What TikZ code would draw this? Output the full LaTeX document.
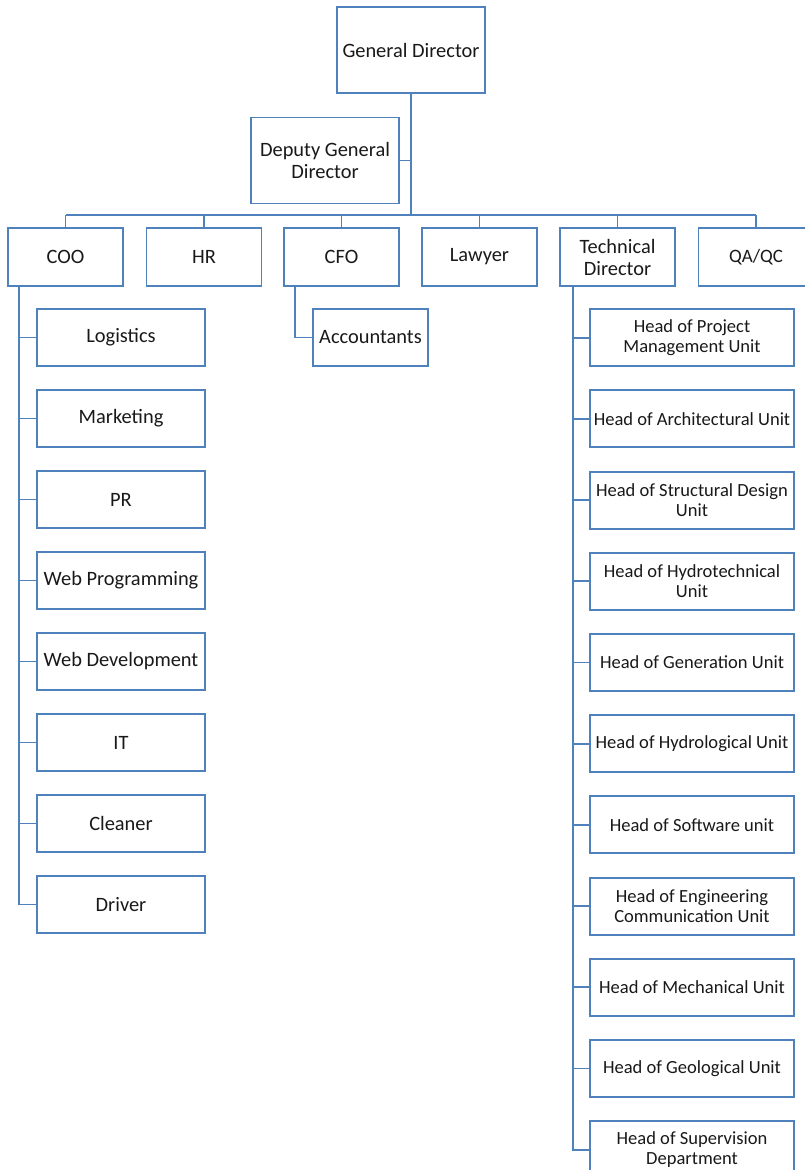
\documentclass[tikz,border=0pt]{standalone}
\usepackage{fontspec}
\setmainfont{Carlito}
\usetikzlibrary{calc}
\definecolor{orgblue}{HTML}{4F81BD}

\begin{document}
\begin{tikzpicture}[x=0.75pt,y=-0.75pt,
  box/.style={draw=orgblue, line width=1.4pt, fill=white, inner sep=1pt,
    align=center, text=black!90, font=\fontsize{15.3}{16.5}\selectfont},
  topbox/.style={box, minimum width=111pt, minimum height=64.5pt},
  rowbox/.style={box, minimum width=86.25pt, minimum height=43.5pt},
  opbox/.style={box, minimum width=126pt, minimum height=42.75pt},
  techbox/.style={box, minimum width=153pt, minimum height=42.75pt,
    font=\fontsize{13.9}{15}\selectfont},
  link/.style={draw=orgblue, line width=1.4pt}]
  \useasboundingbox (0,0) rectangle (805,1170);
  % top of the chart
  \node[topbox] (gd) at (411,50) {General Director};
  \node[topbox] (dgd) at (325,160.5) {Deputy General\\Director};
  \coordinate (bar) at (411,215);
  \draw[link] (gd.south) -- (bar);
  \draw[link] (dgd.east) -- (dgd.east -| gd.south);
  % second row
  \foreach \n/\x/\t in {coo/65.5/COO, hr/204/HR, cfo/341.5/CFO,
    law/479.5/Lawyer, td/617.5/Technical\\Director}
  {
    \node[rowbox] (\n) at (\x,257) {\t};
    \draw[link] (\n.north) -- (\n.north |- bar);
  }
  \node[rowbox, font=\fontsize{14.2}{16}\selectfont] (qa) at (756,257) {QA/QC};
  \draw[link] (qa.north) -- (qa.north |- bar);
  \draw[link] (coo.north |- bar) -- (qa.north |- bar);
  % operations
  \foreach \i/\t in {1/Logistics, 2/Marketing, 3/PR, 4/Web Programming,
    5/Web Development, 6/IT, 7/Cleaner, 8/Driver}
  {
    \node[opbox] (op\i) at (121,{256.5+81*\i}) {\t};
    \draw[link] ([xshift=9pt]coo.south west) |- (op\i.west);
  }
  % finance
  \node[rowbox, minimum height=42.75pt] (acc) at (370.5,337.5) {Accountants};
  \draw[link] ([xshift=9pt]cfo.south west) |- (acc.west);
  % technical units
  \foreach \i/\t in {1/Head of Project\\Management Unit,
    2/Head of Architectural Unit, 3/Head of Structural Design\\Unit,
    4/Head of Hydrotechnical\\Unit, 5/Head of Generation Unit,
    6/Head of Hydrological Unit, 7/Head of Software unit,
    8/Head of Engineering\\Communication Unit, 9/Head of Mechanical Unit,
    10/Head of Geological Unit, 11/Head of Supervision\\Department}
  {
    \node[techbox] (tu\i) at (692,{256.5+81.2*\i}) {\t};
    \draw[link] ([xshift=10.5pt]td.south west) |- (tu\i.west);
  }
\end{tikzpicture}
\end{document}
